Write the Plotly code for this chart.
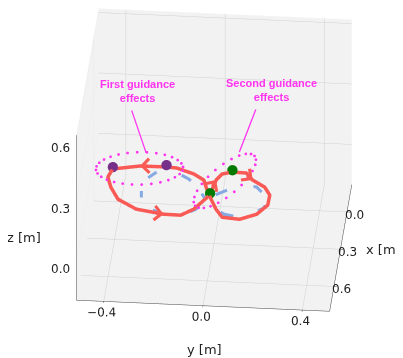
import numpy as np
import plotly.graph_objects as go

# ---------------- data ----------------
# executed trajectory (red, figure-eight), metres
red_x = [0.251, 0.186, 0.129, 0.078, 0.059, 0.062, 0.116, 0.168, 0.230, 0.311, 0.388, 0.434, 0.424, 0.362, 0.283,
         0.212, 0.133, 0.088, 0.046, 0.041, 0.043, 0.076, 0.142, 0.222, 0.316, 0.389, 0.420, 0.422, 0.369, 0.260]
red_y = [-0.020, -0.013, -0.006, 0.014, 0.053, 0.110, 0.140, 0.193, 0.219, 0.218, 0.180, 0.115, 0.044, 0.014, -0.013,
         -0.035, -0.055, -0.099, -0.172, -0.214, -0.320, -0.427, -0.441, -0.422, -0.385, -0.305, -0.192, -0.123, -0.075, -0.025]
red_z = [0.01] * len(red_x)

# reference trajectory (blue dashed)
blue_x = [0.277, 0.191, 0.114, 0.055, 0.060, 0.129, 0.211, 0.291, 0.361, 0.404, 0.414, 0.353, 0.277,
          0.225, 0.171, 0.143, 0.154, 0.224, 0.312, 0.373, 0.402, 0.383, 0.331, 0.277]
blue_y = [-0.034, -0.070, -0.117, -0.184, -0.245, -0.287, -0.300, -0.293, -0.259, -0.194, -0.124, -0.068, -0.034,
          0.006, 0.063, 0.109, 0.159, 0.202, 0.206, 0.162, 0.112, 0.049, -0.005, -0.034]
blue_z = [0.0] * len(blue_x)

# guidance points
purple_x = [0.076, 0.041]
purple_y = [-0.427, -0.214]
purple_z = [0.02, 0.02]
green_x = [0.251, 0.059]
green_y = [-0.020, 0.053]
green_z = [0.02, 0.02]

# guidance regions (ellipses): centre, semi-axes, orientation, number of dots
ell_cx = [0.07, 0.14]
ell_cy = [-0.32, 0.03]
ell_cz = [0.015, 0.015]
ell_a = [0.175, 0.24]
ell_b = [0.13, 0.075]
ell_ang = [99.0, 159.0]
ell_dots = [28, 24]

# annotation anchors (top of each ellipse)
ann_x = [-0.056, -0.096]
ann_y = [-0.304, 0.068]
ann_z = [0.015, 0.015]
ann_text = ["First guidance<br>effects", "Second guidance<br>effects"]

# arrow positions on the red trajectory (indices)
arrow_idx = [2, 6, 20, 26]

x_ticks = [0.0, 0.3, 0.6]
y_ticks = [-0.4, 0.0, 0.4]
z_ticks = [0.0, 0.3, 0.6]
x_range = [-0.22, 0.80]
y_range = [-0.51, 0.51]
z_range = [-0.20, 0.62]

# ---------------- styles ----------------
RED = "#fa5a55"
BLUE = "#86a9e3"
MAG = "#ff33f0"
zoom = 1.42
aspect = dict(x=1 * zoom, y=1 * zoom, z=0.75 * zoom)
dist = 2.0
el, az = np.deg2rad(30), np.deg2rad(5)
cen = np.array([0.078, -0.019, -0.131])
e_dir = np.array([np.cos(el) * np.cos(az), np.cos(el) * np.sin(az), np.sin(el)])
e_pos = cen + dist * e_dir


def fmt(v):
    return f"{v:.1f}".replace("-", "\u2212")


fig = go.Figure()

fig.add_trace(go.Scatter3d(x=blue_x, y=blue_y, z=blue_z, mode="lines",
                           line=dict(color=BLUE, width=6, dash="longdash"), hoverinfo="skip"))
fig.add_trace(go.Scatter3d(x=red_x, y=red_y, z=red_z, mode="lines",
                           line=dict(color=RED, width=7), hoverinfo="skip"))

for cx, cy, cz, a, b, ang, nd in zip(ell_cx, ell_cy, ell_cz, ell_a, ell_b, ell_ang, ell_dots):
    t = np.linspace(0, 2 * np.pi, nd, endpoint=False)
    th = np.deg2rad(ang)
    ex = cx + a * np.cos(t) * np.cos(th) - b * np.sin(t) * np.sin(th)
    ey = cy + a * np.cos(t) * np.sin(th) + b * np.sin(t) * np.cos(th)
    fig.add_trace(go.Scatter3d(x=ex, y=ey, z=[cz] * len(t), mode="markers",
                               marker=dict(color=MAG, size=1.6, line=dict(width=0)), hoverinfo="skip"))

fig.add_trace(go.Scatter3d(x=purple_x, y=purple_y, z=purple_z, mode="markers",
                           marker=dict(color="#76308a", size=6, line=dict(width=0)), hoverinfo="skip"))
fig.add_trace(go.Scatter3d(x=green_x, y=green_y, z=green_z, mode="markers",
                           marker=dict(color="#007a00", size=6, line=dict(width=0)), hoverinfo="skip"))

# screen direction of trajectory for arrowheads (from camera geometry)
f = -e_dir
Rv = np.cross(f, [0, 0, 1]); Rv /= np.linalg.norm(Rv)
Uv = np.cross(Rv, f)
spans = np.array([x_range[1] - x_range[0], y_range[1] - y_range[0], z_range[1] - z_range[0]])
asp = np.array([aspect["x"], aspect["y"], aspect["z"]])
annotations = []
for i in arrow_idx:
    d = np.array([red_x[i + 1] - red_x[i - 1], red_y[i + 1] - red_y[i - 1], red_z[i + 1] - red_z[i - 1]])
    ds = d / spans * asp
    sx, sy = Rv @ ds, -(Uv @ ds)
    n = np.hypot(sx, sy)
    annotations.append(dict(x=red_x[i], y=red_y[i], z=red_z[i], text="", showarrow=True,
                            arrowhead=4, arrowsize=1.05, arrowwidth=2.6, arrowcolor=RED,
                            ax=-sx / n * 9, ay=-sy / n * 9))

line_off = [(-15, -44), (17, -44)]
text_shift = [(-9, 62), (32, 62)]
for k in range(2):
    annotations.append(dict(x=ann_x[k], y=ann_y[k], z=ann_z[k], text="", showarrow=True,
                            arrowhead=0, arrowwidth=1.3, arrowcolor=MAG,
                            ax=line_off[k][0], ay=line_off[k][1]))
    annotations.append(dict(x=ann_x[k], y=ann_y[k], z=ann_z[k], text=ann_text[k], showarrow=False,
                            xshift=text_shift[k][0], yshift=text_shift[k][1],
                            font=dict(family="Liberation Sans", size=11, color=MAG, weight="bold")))

tick_font = dict(family="DejaVu Sans", size=12, color="#222")
# x tick labels along the right floor edge, z tick labels along the front-left edge
for v in x_ticks:
    annotations.append(dict(x=v, y=y_range[1], z=z_range[0], text=fmt(v), showarrow=False,
                            xanchor="left", xshift=-4, yshift=-3, font=tick_font))
for v in z_ticks:
    annotations.append(dict(x=x_range[1], y=y_range[0], z=v, text=fmt(v), showarrow=False,
                            xanchor="right", xshift=-4, yshift=-9, font=tick_font))


def axis(ticks, rng, labels=True):
    return dict(
        title=dict(text=""),
        range=rng, tickvals=ticks, ticktext=[fmt(v) for v in ticks], showticklabels=labels,
        tickfont=tick_font, tickangle=0,
        showbackground=True, backgroundcolor="#f2f2f2",
        gridcolor="#d0d0d0", gridwidth=1,
        showline=True, linecolor="#444", linewidth=1,
        ticks="outside", tickcolor="#444", ticklen=3,
        zeroline=False, showspikes=False, autorange=False,
    )


title_font = dict(family="DejaVu Sans", size=13, color="#222")
def title_ann(text, px, py):
    return dict(text=text, x=px / 403, y=1 - py / 358, xref="paper", yref="paper",
                xanchor="center", yanchor="middle", showarrow=False, font=title_font)


fig.update_layout(
    width=403, height=358,
    margin=dict(l=0, r=0, t=0, b=0),
    paper_bgcolor="white",
    showlegend=False,
    scene=dict(
        domain=dict(x=[0, 1], y=[0, 1]),
        xaxis=axis(x_ticks, x_range, labels=False),
        yaxis=axis(y_ticks, y_range),
        zaxis=axis(z_ticks, z_range, labels=False),
        aspectmode="manual", aspectratio=aspect,
        camera=dict(eye=dict(x=e_pos[0], y=e_pos[1], z=e_pos[2]),
                    center=dict(x=cen[0], y=cen[1], z=cen[2]), up=dict(x=0, y=0, z=1),
                    projection=dict(type="orthographic")),
        annotations=annotations,
    ),
    annotations=[
        title_ann("x [m]", 375, 241),
        title_ann("y [m]", 196, 341),
        title_ann("z [m]", 16, 229),
    ],
)

fig.write_html("out.html")
